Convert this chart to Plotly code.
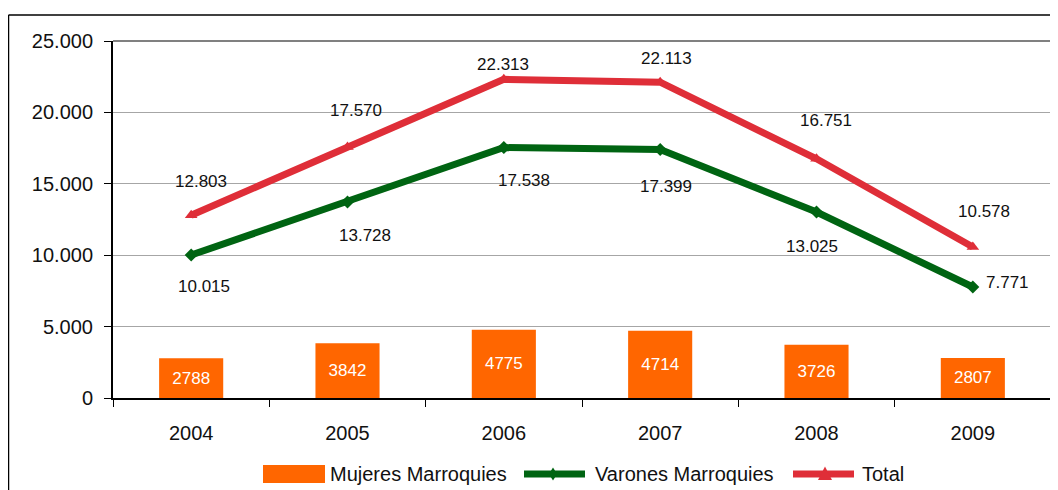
import plotly.graph_objects as go

years = ["2004", "2005", "2006", "2007", "2008", "2009"]
mujeres = [2788, 3842, 4775, 4714, 3726, 2807]
varones = [10015, 13728, 17538, 17399, 13025, 7771]
total = [12803, 17570, 22313, 22113, 16751, 10578]
series_names = ["Mujeres Marroquies", "Varones Marroquies", "Total"]

# label offsets (pixels) for line data labels
total_dx = [10, 8, -1, 6, 9, 11]
total_dy = [34, 37, 15, 24, 38, 35]
var_dx = [13, 17, 20, 6, -5, 35]
var_dy = [-32, -34, -33, -37, -34, 5]

def fmt(v):
    return f"{v:,}".replace(",", ".")

FONT = "Liberation Sans, Arial, sans-serif"
ORANGE = "#FF6600"
GREEN = "#006412"
RED = "#DF2E38"
TXT = "#111111"

fig = go.Figure()
fig.add_trace(go.Bar(
    x=years, y=mujeres, name=series_names[0],
    marker=dict(color=ORANGE, line=dict(width=0)),
    width=0.41,
    text=[str(v) for v in mujeres], textposition="inside",
    insidetextanchor="middle",
    textfont=dict(color="white", size=17, family=FONT),
))
fig.add_trace(go.Scatter(
    x=years, y=varones, name=series_names[1], mode="lines+markers",
    line=dict(color=GREEN, width=7),
    marker=dict(symbol="diamond", size=10, color=GREEN),
))
fig.add_trace(go.Scatter(
    x=years, y=total, name=series_names[2], mode="lines+markers",
    line=dict(color=RED, width=7),
    marker=dict(symbol="triangle-up", size=11, color=RED),
))

ann = []
for i, yr in enumerate(years):
    ann.append(dict(x=i, y=total[i], text=fmt(total[i]), showarrow=False,
                    xshift=total_dx[i], yshift=total_dy[i],
                    font=dict(size=17, color=TXT, family=FONT)))
    ann.append(dict(x=i, y=varones[i], text=fmt(varones[i]), showarrow=False,
                    xshift=var_dx[i], yshift=var_dy[i],
                    font=dict(size=17, color=TXT, family=FONT)))

# ---- custom legend (paper coords; plot area is 938 x 357 px) ----
PW, PH = 938.0, 357.0
def px(x):
    return (x - 113) / PW
def py(y):
    return (398 - y) / PH

LY = 474
leg_font = dict(size=20, color=TXT, family=FONT)
ann += [
    dict(xref="paper", yref="paper", x=px(328), y=py(LY), xanchor="left", yanchor="middle",
         text=series_names[0], showarrow=False, font=leg_font),
    dict(xref="paper", yref="paper", x=px(593), y=py(LY), xanchor="left", yanchor="middle",
         text=series_names[1], showarrow=False, font=leg_font),
    dict(xref="paper", yref="paper", x=px(860), y=py(LY), xanchor="left", yanchor="middle",
         text=series_names[2], showarrow=False, font=leg_font),
]

def diamond(cx, cy, hw, hh):
    return (f"M {px(cx - hw)} {py(cy)} L {px(cx)} {py(cy - hh)} "
            f"L {px(cx + hw)} {py(cy)} L {px(cx)} {py(cy + hh)} Z")

def triangle(cx, top, base, hw):
    return (f"M {px(cx - hw)} {py(base)} L {px(cx + hw)} {py(base)} "
            f"L {px(cx)} {py(top)} Z")

shapes = [
    # outer chart frame (left and top)
    dict(type="line", xref="paper", yref="paper", x0=px(8.5), x1=px(8.5), y0=py(500), y1=py(15),
         line=dict(color="black", width=1.5)),
    dict(type="line", xref="paper", yref="paper", x0=px(8.5), x1=px(1060), y0=py(15), y1=py(15),
         line=dict(color="black", width=1.5)),
    # plot area border top/right
    dict(type="line", xref="paper", yref="paper", x0=0, x1=1, y0=1, y1=1,
         line=dict(color="#808080", width=2)),
    dict(type="line", xref="paper", yref="paper", x0=1, x1=1, y0=0, y1=1,
         line=dict(color="#808080", width=2)),
    # legend swatches
    dict(type="rect", xref="paper", yref="paper", x0=px(263), x1=px(325), y0=py(483), y1=py(465),
         fillcolor=ORANGE, line=dict(width=0)),
    dict(type="line", xref="paper", yref="paper", x0=px(524), x1=px(585), y0=py(LY), y1=py(LY),
         line=dict(color=GREEN, width=7)),
    dict(type="path", xref="paper", yref="paper", path=diamond(553, LY, 4, 6.5),
         fillcolor=GREEN, line=dict(width=0)),
    dict(type="line", xref="paper", yref="paper", x0=px(793), x1=px(854), y0=py(LY), y1=py(LY),
         line=dict(color=RED, width=7)),
    dict(type="path", xref="paper", yref="paper", path=triangle(825, 466.5, 480, 7),
         fillcolor=RED, line=dict(width=0)),
]

fig.update_layout(
    width=1050, height=482,
    margin=dict(l=105, r=7, t=33, b=92, autoexpand=False),
    paper_bgcolor="white", plot_bgcolor="white",
    separators=",.",
    font=dict(family=FONT, color=TXT),
    bargap=0.59,
    showlegend=False,
    annotations=ann,
    shapes=shapes,
    xaxis=dict(
        type="category", range=[-0.5, 5.5], autorange=False,
        showgrid=False, showline=True, linecolor="black", linewidth=2,
        ticks="outside", ticklen=7, tickcolor="black", tickwidth=1,
        tickson="boundaries", tickangle=0, automargin=False,
        ticklabelstandoff=16,
        tickfont=dict(size=20, family=FONT, color=TXT),
        fixedrange=True,
    ),
    yaxis=dict(
        range=[0, 25000], autorange=False, dtick=5000, tickformat=",d", automargin=False,
        showgrid=True, gridcolor="#A6A6A6", gridwidth=1,
        showline=True, linecolor="black", linewidth=2,
        ticks="outside", ticklen=7, tickcolor="black",
        ticklabelstandoff=7,
        tickfont=dict(size=20, family=FONT, color=TXT),
        zeroline=False, fixedrange=True,
    ),
)

fig.write_html("out.html")
